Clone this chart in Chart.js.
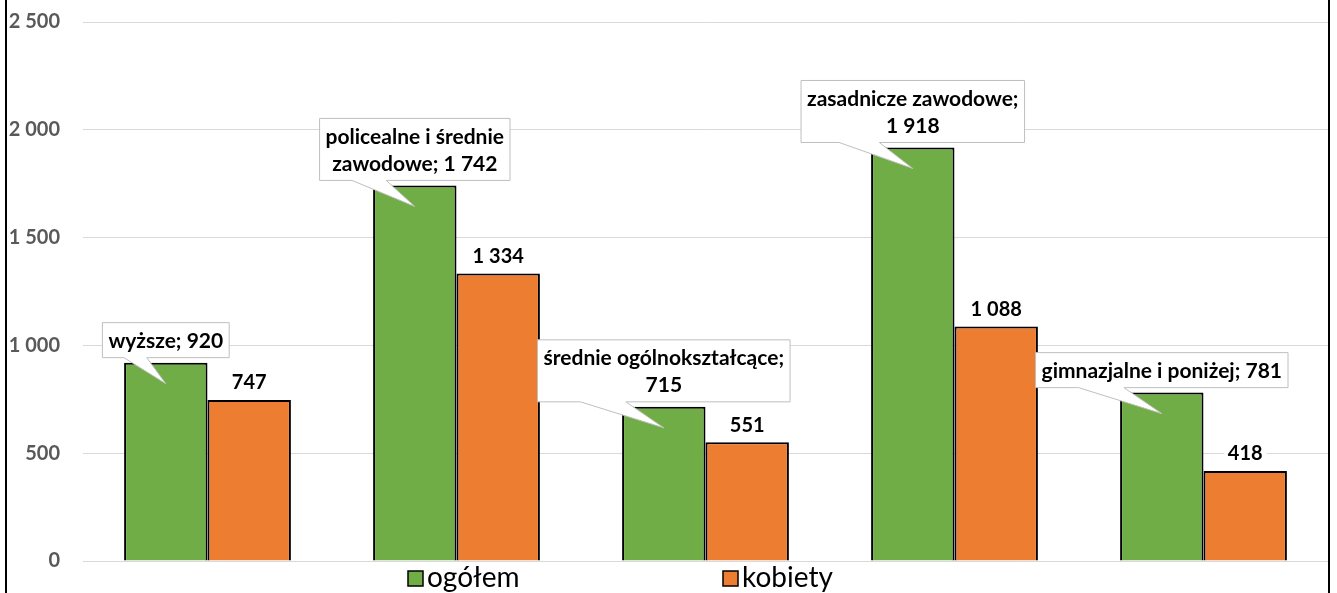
<!DOCTYPE html>
<html><head><meta charset="utf-8">
<script src="https://cdn.jsdelivr.net/npm/chart.js@4.4.1/dist/chart.umd.min.js"></script>
<style>html,body{margin:0;padding:0;background:#fff;}#wrap{width:1337px;height:593px;position:relative;}</style>
</head><body><div id="wrap"><canvas id="c" width="1337" height="593"></canvas></div>
<script>
const categories = ["wyższe", "policealne i średnie zawodowe", "średnie ogólnokształcące", "zasadnicze zawodowe", "gimnazjalne i poniżej"];
const seriesNames = ["ogółem", "kobiety"];
const ogolem = [920, 1742, 715, 1918, 781];
const kobiety = [747, 1334, 551, 1088, 418];
const yTicks = [0, 500, 1000, 1500, 2000, 2500];

const FONT = "Lato, 'Open Sans', sans-serif";
const fmt = v => String(v).replace(/\B(?=(\d{3})+(?!\d))/g, " ");

function wrapTokens(ctx, tokens, maxW) {
  const lines = []; let cur = "";
  tokens.forEach(t => {
    const test = cur ? cur + " " + t : t;
    if (cur && ctx.measureText(test).width > maxW) { lines.push(cur); cur = t; } else cur = test;
  });
  if (cur) lines.push(cur);
  return lines;
}

const annot = {
  id: 'annot',
  afterDraw(chart) {
    const ctx = chart.ctx;
    ctx.save();
    ctx.strokeStyle = '#000'; ctx.lineWidth = 2;
    ctx.beginPath(); ctx.moveTo(6, 0); ctx.lineTo(6, 593); ctx.moveTo(1329, 0); ctx.lineTo(1329, 593); ctx.stroke();
    ctx.restore();

    const m1 = chart.getDatasetMeta(1);
    ctx.save();
    ctx.font = "bold 20px " + FONT;
    ctx.textAlign = 'center'; ctx.textBaseline = 'middle';
    m1.data.forEach((bar, i) => {
      const t = fmt(kobiety[i]);
      const w = ctx.measureText(t).width;
      const y = bar.y - 18;
      ctx.fillStyle = '#fff';
      ctx.fillRect(bar.x - w / 2 - 4, y - 11, w + 8, 22);
      ctx.fillStyle = '#000';
      ctx.fillText(t, bar.x, y + 1);
    });
    ctx.restore();

    const m0 = chart.getDatasetMeta(0);
    ctx.save();
    ctx.font = "bold 21px " + FONT;
    ctx.textAlign = 'center'; ctx.textBaseline = 'middle';
    m0.data.forEach((bar, i) => {
      const words = categories[i].split(" ");
      words[words.length - 1] += ";";
      const tokens = words.concat([fmt(ogolem[i])]);
      const lines = wrapTokens(ctx, tokens, 262);
      const tw = Math.max(...lines.map(l => ctx.measureText(l).width));
      const lh = 27;
      const bw = tw + 12, bh = lines.length * lh + 8;
      const cx = bar.x;
      const bottom = bar.y - 5, top = bottom - bh;
      const left = cx - bw / 2, right = cx + bw / 2;
      const b1 = cx - 0.33 * bw, b2 = cx - 0.15 * bw;
      const tipX = cx, tipY = bar.y + 21;
      ctx.beginPath();
      ctx.moveTo(left, top); ctx.lineTo(right, top); ctx.lineTo(right, bottom);
      ctx.lineTo(b2, bottom); ctx.lineTo(tipX, tipY); ctx.lineTo(b1, bottom);
      ctx.lineTo(left, bottom); ctx.closePath();
      ctx.fillStyle = '#fff'; ctx.fill();
      ctx.strokeStyle = '#bfbfbf'; ctx.lineWidth = 1; ctx.stroke();
      ctx.fillStyle = '#000';
      lines.forEach((l, k) => ctx.fillText(l, cx, top + 4 + lh * k + lh / 2 + 1));
    });
    ctx.restore();

    ctx.save();
    ctx.font = "28px " + FONT;
    ctx.textBaseline = 'middle'; ctx.textAlign = 'left';
    const colors = ['#70AD47', '#ED7D31'];
    const xs = [408, 723];
    seriesNames.forEach((n, k) => {
      ctx.fillStyle = colors[k];
      ctx.fillRect(xs[k], 571, 15, 15);
      ctx.strokeStyle = '#000'; ctx.lineWidth = 1.5;
      ctx.strokeRect(xs[k], 571, 15, 15);
      ctx.fillStyle = '#000';
      ctx.fillText(n, xs[k] + 19, 578);
    });
    ctx.restore();
  }
};

new Chart(document.getElementById('c'), {
  type: 'bar',
  data: {
    labels: categories,
    datasets: [
      { label: seriesNames[0], data: ogolem, backgroundColor: '#70AD47', borderColor: '#000', borderWidth: 2 },
      { label: seriesNames[1], data: kobiety, backgroundColor: '#ED7D31', borderColor: '#000', borderWidth: 2 }
    ]
  },
  options: {
    responsive: false, animation: false,
    layout: { padding: { left: 0, right: 9, top: 22, bottom: 32 } },
    datasets: { bar: { categoryPercentage: 0.67, barPercentage: 1 } },
    plugins: { legend: { display: false }, tooltip: { enabled: false } },
    scales: {
      x: { display: false },
      y: {
        min: 0, max: 2500,
        afterFit: s => { s.width = 83; s.paddingTop = 0; s.paddingBottom = 0; },
        afterBuildTicks: s => { s.ticks = yTicks.map(v => ({ value: v })); },
        grid: { color: '#d9d9d9', lineWidth: 1, drawTicks: false },
        border: { display: false },
        ticks: { padding: 23, color: '#595959', font: { family: FONT, size: 20, weight: 'bold' }, callback: v => fmt(v) }
      }
    }
  },
  plugins: [annot]
});
</script></body></html>
